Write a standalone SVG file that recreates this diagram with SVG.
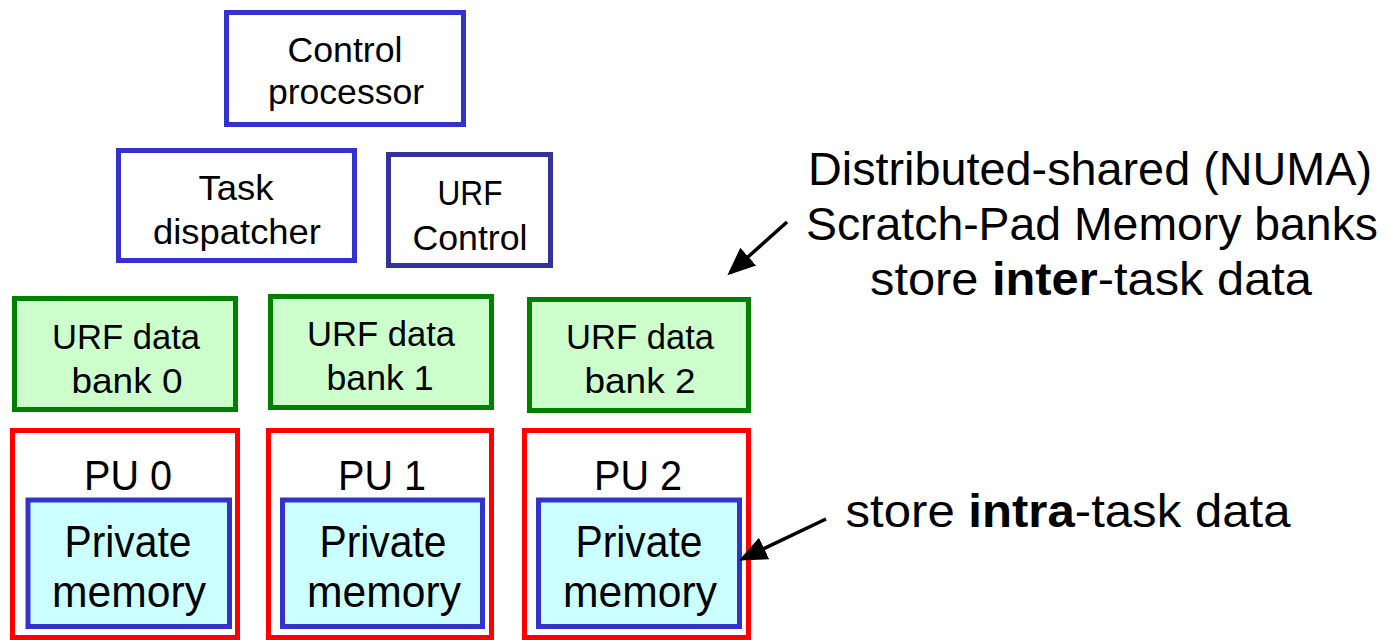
<svg xmlns="http://www.w3.org/2000/svg" width="1387" height="640" viewBox="0 0 1387 640">
  <style>
    text { font-family: "Liberation Sans", Arial, sans-serif; fill: #000; text-anchor: middle; }
    .ctl { fill: #fff; stroke: #3333CC; stroke-width: 5; }
    .ctl2 { fill: #fff; stroke: #333399; stroke-width: 5; }
    .bank { fill: #CCFFCC; stroke: #008000; stroke-width: 5; }
    .pu { fill: #fff; stroke: #FF0000; stroke-width: 5; }
    .mem { fill: #CCFFFF; stroke: #3333CC; stroke-width: 5; }
    .t34 { font-size: 35px; }
    .t40 { font-size: 42px; }
    .t44 { font-size: 44px; }
    .note { font-size: 46px; }
    .conn { stroke: #000; stroke-width: 3.5; fill: none; marker-end: url(#arrow); }
  </style>
  <defs>
    <marker id="arrow" markerWidth="9" markerHeight="8" refX="7" refY="4" orient="auto" markerUnits="strokeWidth">
      <path d="M0,0.6 L8,4 L0,7.4 Z" fill="#000"/>
    </marker>
  </defs>

  <rect width="1387" height="640" fill="#fff"/>

  <g id="control-processor">
    <rect class="ctl" x="226.5" y="12.5" width="237" height="112"/>
    <text class="t34" x="345" y="62" textLength="115" lengthAdjust="spacingAndGlyphs">Control</text>
    <text class="t34" x="346" y="104" textLength="156" lengthAdjust="spacingAndGlyphs">processor</text>
  </g>

  <g id="task-dispatcher">
    <rect class="ctl" x="118.5" y="150.5" width="236" height="110"/>
    <text class="t34" x="236" y="200" textLength="75" lengthAdjust="spacingAndGlyphs">Task</text>
    <text class="t34" x="237" y="244" textLength="168" lengthAdjust="spacingAndGlyphs">dispatcher</text>
  </g>

  <g id="urf-control">
    <rect class="ctl2" x="388.5" y="154.5" width="162" height="111"/>
    <text class="t34" x="470" y="205" textLength="65" lengthAdjust="spacingAndGlyphs">URF</text>
    <text class="t34" x="470" y="250" textLength="115" lengthAdjust="spacingAndGlyphs">Control</text>
  </g>

  <g id="urf-bank-0">
    <rect class="bank" x="14.5" y="298.5" width="221" height="111"/>
    <text class="t34" x="126" y="349" textLength="148" lengthAdjust="spacingAndGlyphs">URF data</text>
    <text class="t34" x="127" y="393" textLength="111" lengthAdjust="spacingAndGlyphs">bank 0</text>
  </g>

  <g id="urf-bank-1">
    <rect class="bank" x="270.5" y="296.5" width="221" height="111"/>
    <text class="t34" x="381" y="346" textLength="148" lengthAdjust="spacingAndGlyphs">URF data</text>
    <text class="t34" x="380" y="390" textLength="107" lengthAdjust="spacingAndGlyphs">bank 1</text>
  </g>

  <g id="urf-bank-2">
    <rect class="bank" x="529.5" y="299.5" width="219" height="111"/>
    <text class="t34" x="640" y="349" textLength="148" lengthAdjust="spacingAndGlyphs">URF data</text>
    <text class="t34" x="640" y="393" textLength="111" lengthAdjust="spacingAndGlyphs">bank 2</text>
  </g>

  <g id="pu-0">
    <rect class="pu" x="12.5" y="430.5" width="225" height="207"/>
    <text class="t40" x="128" y="490" textLength="88" lengthAdjust="spacingAndGlyphs">PU 0</text>
    <g id="private-memory-0">
      <rect class="mem" x="28" y="500" width="201.5" height="126.5"/>
      <text class="t44" x="128" y="557" textLength="127" lengthAdjust="spacingAndGlyphs">Private</text>
      <text class="t44" x="129" y="607" textLength="154" lengthAdjust="spacingAndGlyphs">memory</text>
    </g>
  </g>

  <g id="pu-1">
    <rect class="pu" x="268.5" y="430.5" width="223" height="207"/>
    <text class="t40" x="382" y="490" textLength="88" lengthAdjust="spacingAndGlyphs">PU 1</text>
    <g id="private-memory-1">
      <rect class="mem" x="282.5" y="500" width="200" height="126.5"/>
      <text class="t44" x="383" y="557" textLength="127" lengthAdjust="spacingAndGlyphs">Private</text>
      <text class="t44" x="384" y="607" textLength="154" lengthAdjust="spacingAndGlyphs">memory</text>
    </g>
  </g>

  <g id="pu-2">
    <rect class="pu" x="524.5" y="430.5" width="224" height="207"/>
    <text class="t40" x="638" y="490" textLength="88" lengthAdjust="spacingAndGlyphs">PU 2</text>
    <g id="private-memory-2">
      <rect class="mem" x="538.5" y="500" width="201" height="126.5"/>
      <text class="t44" x="639" y="557" textLength="127" lengthAdjust="spacingAndGlyphs">Private</text>
      <text class="t44" x="640" y="607" textLength="154" lengthAdjust="spacingAndGlyphs">memory</text>
    </g>
  </g>

  <g id="label-inter">
    <text class="note" x="1090" y="185" textLength="564" lengthAdjust="spacingAndGlyphs">Distributed-shared (NUMA)</text>
    <text class="note" x="1092" y="240" textLength="572" lengthAdjust="spacingAndGlyphs">Scratch-Pad Memory banks</text>
    <text class="note" x="1091" y="295" textLength="442" lengthAdjust="spacingAndGlyphs">store <tspan font-weight="bold">inter</tspan>-task data</text>
  </g>

  <g id="label-intra">
    <text class="note" x="1068" y="527" textLength="445" lengthAdjust="spacingAndGlyphs">store <tspan font-weight="bold">intra</tspan>-task data</text>
  </g>

  <g id="connectors">
    <path class="conn" d="M787,222 L730,273"/>
    <path class="conn" d="M826,519 L742,559"/>
  </g>
</svg>
